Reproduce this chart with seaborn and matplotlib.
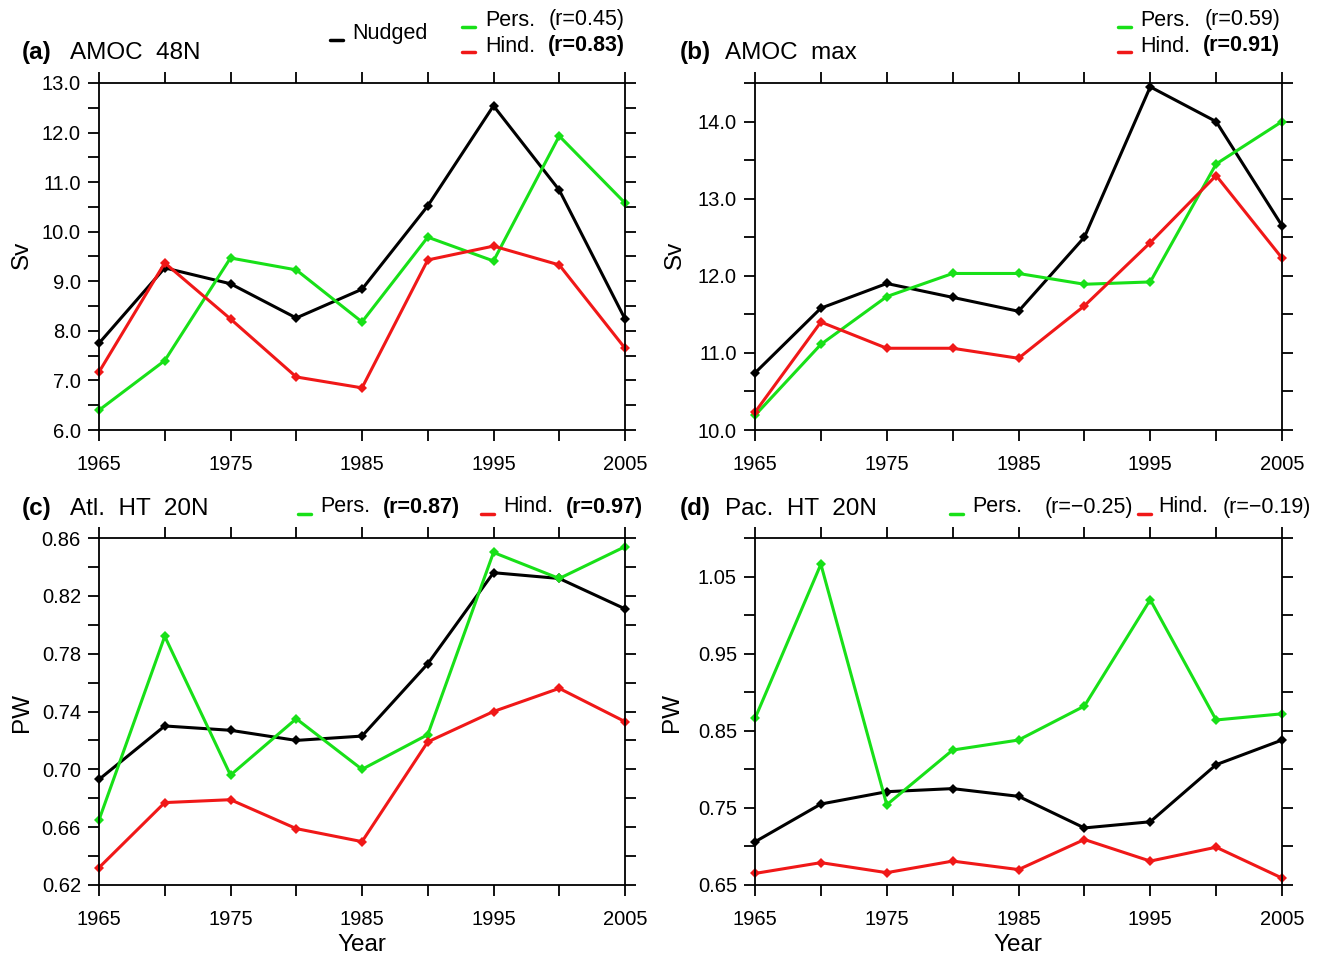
import numpy as np
import pandas as pd
import matplotlib
matplotlib.use('Agg')
import matplotlib.pyplot as plt
from matplotlib.lines import Line2D
import seaborn as sns

# datos
years = [1965, 1970, 1975, 1980, 1985, 1990, 1995, 2000, 2005]

a_nudged = [7.75, 9.27, 8.95, 8.26, 8.84, 10.52, 12.54, 10.84, 8.24]
a_pers = [6.40, 7.40, 9.47, 9.23, 8.18, 9.89, 9.41, 11.93, 10.58]
a_hind = [7.17, 9.37, 8.24, 7.07, 6.85, 9.43, 9.71, 9.33, 7.65]

b_nudged = [10.74, 11.58, 11.90, 11.72, 11.54, 12.50, 14.45, 14.00, 12.65]
b_pers = [10.19, 11.11, 11.73, 12.03, 12.03, 11.89, 11.92, 13.45, 14.00]
b_hind = [10.23, 11.40, 11.06, 11.06, 10.93, 11.61, 12.43, 13.30, 12.23]

c_nudged = [0.693, 0.730, 0.727, 0.720, 0.723, 0.773, 0.836, 0.832, 0.811]
c_pers = [0.665, 0.792, 0.696, 0.735, 0.700, 0.724, 0.850, 0.832, 0.854]
c_hind = [0.632, 0.677, 0.679, 0.659, 0.650, 0.719, 0.740, 0.756, 0.733]

d_nudged = [0.706, 0.755, 0.771, 0.775, 0.765, 0.724, 0.732, 0.806, 0.838]
d_pers = [0.866, 1.066, 0.754, 0.825, 0.838, 0.882, 1.020, 0.864, 0.872]
d_hind = [0.665, 0.679, 0.666, 0.681, 0.670, 0.709, 0.681, 0.699, 0.659]

year_ticks = [1965, 1970, 1975, 1980, 1985, 1990, 1995, 2000, 2005]
year_labels = ['1965', '', '1975', '', '1985', '', '1995', '', '2005']

a_yticks = [6.0, 6.5, 7.0, 7.5, 8.0, 8.5, 9.0, 9.5, 10.0, 10.5, 11.0, 11.5, 12.0, 12.5, 13.0]
a_ylabels = ['6.0', '', '7.0', '', '8.0', '', '9.0', '', '10.0', '', '11.0', '', '12.0', '', '13.0']
b_yticks = [10.0, 10.5, 11.0, 11.5, 12.0, 12.5, 13.0, 13.5, 14.0, 14.5]
b_ylabels = ['10.0', '', '11.0', '', '12.0', '', '13.0', '', '14.0', '']
c_yticks = [0.62, 0.64, 0.66, 0.68, 0.70, 0.72, 0.74, 0.76, 0.78, 0.80, 0.82, 0.84, 0.86]
c_ylabels = ['0.62', '', '0.66', '', '0.70', '', '0.74', '', '0.78', '', '0.82', '', '0.86']
d_yticks = [0.65, 0.70, 0.75, 0.80, 0.85, 0.90, 0.95, 1.00, 1.05, 1.10]
d_ylabels = ['0.65', '', '0.75', '', '0.85', '', '0.95', '', '1.05', '']

sns.set_style("ticks")
plt.rcParams['font.family'] = ['Liberation Sans', 'DejaVu Sans']
plt.rcParams['text.color'] = 'black'

W, H = 1325, 958
colores = {'Nudged': 'black', 'Pers.': '#18e018', 'Hind.': '#f01818'}

fig = plt.figure(figsize=(W / 100, H / 100), dpi=100)


def ejes(x0, x1, y0, y1):
    return fig.add_axes([x0 / W, 1 - y1 / H, (x1 - x0) / W, (y1 - y0) / H])


def dibujar(ax, nudged, pers, hind, ylim, yticks, ylabels):
    df = pd.DataFrame({
        'Year': years * 3,
        'val': nudged + pers + hind,
        'serie': ['Nudged'] * 9 + ['Pers.'] * 9 + ['Hind.'] * 9,
    })
    sns.lineplot(data=df, x='Year', y='val', hue='serie', palette=colores,
                 marker='D', markersize=5, markeredgewidth=0, linewidth=2.2,
                 legend=False, ax=ax, clip_on=False)
    ax.set_xlim(1965, 2005)
    ax.set_ylim(*ylim)
    ax.set_xticks(year_ticks)
    ax.set_xticklabels(year_labels)
    ax.set_yticks(yticks)
    ax.set_yticklabels(ylabels)
    ax.set_xlabel('')
    ax.set_ylabel('')
    ax.tick_params(direction='out', length=8, width=1.3, top=True, right=True,
                   labelsize=14.5, colors='black')
    ax.tick_params(axis='x', pad=10)
    ax.tick_params(axis='y', pad=5)
    for s in ax.spines.values():
        s.set_linewidth(1.3)
        s.set_color('black')


ax_a = ejes(99, 625, 83, 430)
ax_b = ejes(755, 1282, 83, 430)
ax_c = ejes(99, 625, 538, 885)
ax_d = ejes(755, 1282, 538, 885)

dibujar(ax_a, a_nudged, a_pers, a_hind, (6.0, 13.0), a_yticks, a_ylabels)
dibujar(ax_b, b_nudged, b_pers, b_hind, (10.0, 14.5), b_yticks, b_ylabels)
dibujar(ax_c, c_nudged, c_pers, c_hind, (0.62, 0.86), c_yticks, c_ylabels)
dibujar(ax_d, d_nudged, d_pers, d_hind, (0.65, 1.10), d_yticks, d_ylabels)


def texto(x, y, s, ha='left', bold=False, size=15.5, **kw):
    fig.text(x / W, 1 - y / H, s, ha=ha, va='center', fontsize=size,
             fontweight='bold' if bold else 'normal', color='black', **kw)


def marca(x, y, color):
    fig.add_artist(Line2D([x / W, (x + 13) / W], [1 - y / H, 1 - y / H],
                          color=color, lw=2.5, transform=fig.transFigure))


# titulos de los paneles
texto(22, 53, '(a)', bold=True, size=17.5)
texto(70, 53, 'AMOC  48N', size=17.5)
texto(680, 53, '(b)', bold=True, size=17.5)
texto(725, 53, 'AMOC  max', size=17.5)
texto(22, 509, '(c)', bold=True, size=17.5)
texto(70, 509, 'Atl.  HT  20N', size=17.5)
texto(680, 509, '(d)', bold=True, size=17.5)
texto(725, 509, 'Pac.  HT  20N', size=17.5)

# leyendas
marca(330, 40, 'black')
texto(352, 34, 'Nudged')
marca(462, 27, colores['Pers.'])
texto(485, 20, 'Pers.')
texto(625, 20, '(r=0.45)', ha='right')
marca(462, 52, colores['Hind.'])
texto(485, 46, 'Hind.')
texto(625, 46, '(r=0.83)', ha='right', bold=True)

marca(1118, 27, colores['Pers.'])
texto(1140, 20, 'Pers.')
texto(1280, 20, '(r=0.59)', ha='right')
marca(1118, 52, colores['Hind.'])
texto(1140, 46, 'Hind.')
texto(1280, 46, '(r=0.91)', ha='right', bold=True)

marca(298, 514, colores['Pers.'])
texto(320, 507, 'Pers.')
texto(460, 507, '(r=0.87)', ha='right', bold=True)
marca(481, 514, colores['Hind.'])
texto(503, 507, 'Hind.')
texto(643, 507, '(r=0.97)', ha='right', bold=True)

marca(950, 514, colores['Pers.'])
texto(972, 507, 'Pers.')
texto(1133, 507, '(r=\u22120.25)', ha='right')
marca(1138, 514, colores['Hind.'])
texto(1158, 507, 'Hind.')
texto(1311, 507, '(r=\u22120.19)', ha='right')

# etiquetas de ejes
texto(22, 255, 'Sv', ha='center', size=17.5, rotation=90)
texto(675, 255, 'Sv', ha='center', size=17.5, rotation=90)
texto(22, 712, 'PW', ha='center', size=17.5, rotation=90)
texto(672, 712, 'PW', ha='center', size=17.5, rotation=90)
texto(362, 945, 'Year', ha='center', size=17.5)
texto(1018, 945, 'Year', ha='center', size=17.5)

plt.savefig('out.png', dpi=100)
plt.close()
